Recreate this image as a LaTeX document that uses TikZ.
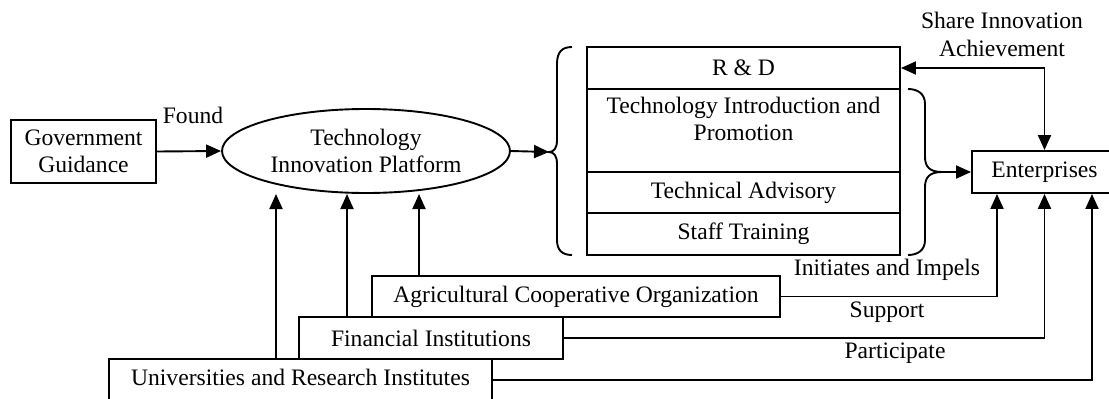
\documentclass[tikz,border=0pt]{standalone}
\usepackage{fontspec}
\setmainfont{Liberation Serif}
\usetikzlibrary{arrows.meta,shapes.geometric}
\begin{document}
\begin{tikzpicture}[x=1pt,y=-1pt,
  every node/.style={font=\fontsize{23.6}{27.5}\selectfont, inner sep=0pt, align=center},
  box/.style={draw, line width=1.9pt},
  arr/.style={line width=1.9pt, -{Triangle[length=15pt,width=13pt]}},
  darr/.style={line width=1.9pt, {Triangle[length=15pt,width=13pt]}-{Triangle[length=15pt,width=13pt]}},
  ln/.style={line width=1.9pt}]
\useasboundingbox (0,0) rectangle (1109,399);
% nodes
\node[box, minimum width=145, minimum height=63] (gov) at (83.5,151.5) {Government\\Guidance};
\node[draw, ellipse, line width=1.9pt, minimum width=288, minimum height=84] (tip) at (366,151) {Technology\\Innovation Platform};
\node[box, minimum width=313, minimum height=42] (rd) at (743.5,68) {R \& D};
\node[box, minimum width=313, minimum height=83] (ti) at (743.5,130.5) {};
\node (titext) at (743.5,119) {Technology Introduction and\\Promotion};
\node[box, minimum width=313, minimum height=41] (ta) at (743.5,192.5) {Technical Advisory};
\node[box, minimum width=313, minimum height=42] (st) at (743.5,234) {Staff Training};
\node[box, minimum width=145, minimum height=42] (ent) at (1044.5,172) {Enterprises};
\node[box, minimum width=408, minimum height=41] (agri) at (576,296.5) {Agricultural Cooperative Organization};
\node[box, minimum width=264, minimum height=42] (fin) at (431,338) {Financial Institutions};
\node[box, minimum width=383, minimum height=42] (univ) at (300.5,380) {\raisebox{5pt}{Universities and Research Institutes}};
% labels
\node (lfound) at (193,115) {Found};
\node (lshare) at (1002,34.5) {Share Innovation\\Achievement};
\node (linit) at (887,270) {Initiates and Impels};
\node (lsup) at (887,312) {Support};
\node (lpart) at (895,353) {Participate};
% braces
\coordinate (lb) at (549,152);
\coordinate (rb) at (942,172);
\draw[ln] (572,47) .. controls (562,47) and (557,52) .. (557,64) -- (557,140)
  .. controls (557,148) and (554,152) .. (lb)
  .. controls (554,152) and (557,156) .. (557,164) -- (557,240)
  .. controls (557,250) and (562,255) .. (572,255);
\draw[ln] (908,89) .. controls (918,89) and (925,94) .. (925,104) -- (925,157)
  .. controls (925,167) and (930,172) .. (rb)
  .. controls (930,172) and (925,177) .. (925,187) -- (925,240)
  .. controls (925,250) and (918,255) .. (908,255);
% connectors
\draw[arr] (gov.east) -- (tip.west);
\draw[arr] (tip.east) -- (lb);
\draw[arr] (rb) -- (ent.west);
\draw[darr] (rd.east) -| (ent.north);
\coordinate (up) at (0,194);
\coordinate (a1) at ([xshift=-157]agri.north);
\coordinate (f1) at ([xshift=-84]fin.north);
\coordinate (u1) at ([xshift=-24.5]univ.north);
\draw[arr] (a1) -- (a1 |- up);
\draw[arr] (f1) -- (f1 |- up);
\draw[arr] (u1) -- (u1 |- up);
\draw[arr] (agri.east) -| ([xshift=-47.5]ent.south);
\draw[arr] (fin.east) -| (ent.south);
\draw[arr] (univ.east) -| ([xshift=47.5]ent.south);
\end{tikzpicture}
\end{document}
